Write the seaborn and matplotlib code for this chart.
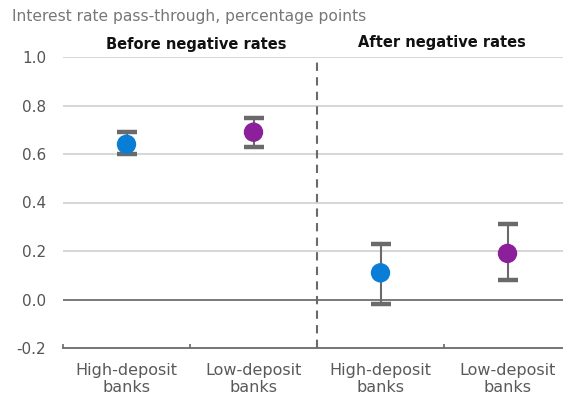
import matplotlib
matplotlib.use("Agg")
import matplotlib.pyplot as plt
import seaborn as sns
import pandas as pd
import numpy as np

# Pass-through estimates with confidence bounds
categories = ["High-deposit\nbanks", "Low-deposit\nbanks", "High-deposit\nbanks", "Low-deposit\nbanks"]
groups = ["High", "Low", "High", "Low"]
estimates = [0.64, 0.69, 0.11, 0.19]
lower = [0.60, 0.63, -0.02, 0.08]
upper = [0.69, 0.75, 0.23, 0.31]
periods = ["Before negative rates", "After negative rates"]
yticks = [-0.2, 0.0, 0.2, 0.4, 0.6, 0.8, 1.0]

sns.set_theme(style="white")
plt.rcParams["font.family"] = ["DejaVu Sans"]

df = pd.DataFrame({"pos": np.arange(len(categories)), "est": estimates,
                   "lo": lower, "hi": upper, "group": groups})

fig = plt.figure(figsize=(5.63, 3.98), dpi=100)
W, H = 563, 398
ax = fig.add_axes([63 / W, 1 - 348 / H, 508 / W, (348 - 57) / H])

# horizontal gridlines
for t in yticks[1:]:
    ax.axhline(t, color="#6e6e6e" if t == 0 else "#d6d6d6", lw=1.3 if t == 0 else 1.4, zorder=0)

# confidence intervals
ax.errorbar(df["pos"], df["est"],
            yerr=[df["est"] - df["lo"], df["hi"] - df["est"]],
            fmt="none", ecolor="#6a6a6a", elinewidth=1.5, capsize=7, capthick=3.2, zorder=2)

palette = {"High": "#0A7DD6", "Low": "#8C1F9A"}
sns.scatterplot(data=df, x="pos", y="est", hue="group", palette=palette, s=195,
                edgecolor="none", legend=False, ax=ax, zorder=3)

# separator between periods
ax.axvline(1.5, color="#6a6a6a", lw=1.5, ls=(0, (4, 3)), zorder=1)

ax.set_xlim(-0.5, 3.5)
ax.set_ylim(-0.2, 1.0)
ax.set_yticks(yticks)
ax.set_yticklabels([f"{t:.1f}" for t in yticks], color="#555555", fontsize=11)
ax.set_xticks(range(len(categories)))
ax.set_xticklabels(categories, color="#5a5a5a", fontsize=11.5, linespacing=1.15)
ax.set_xticks([-0.5, 0.5, 1.5, 2.5, 3.5], minor=True)
ax.tick_params(axis="x", which="major", length=0, pad=11)
ax.tick_params(axis="x", which="minor", length=3, width=1.2, color="#6a6a6a", direction="in", bottom=True)
ax.tick_params(axis="y", length=0, pad=12)
ax.set_xlabel("")
ax.set_ylabel("")

for s in ["top", "right", "left"]:
    ax.spines[s].set_visible(False)
ax.spines["bottom"].set_color("#6a6a6a")
ax.spines["bottom"].set_linewidth(1.3)

fig.text(12 / W, 1 - 17 / H, "Interest rate pass-through, percentage points",
         color="#777777", fontsize=11.2, va="center", ha="left")
fig.text(196 / W, 1 - 45 / H, periods[0], fontsize=10.5, fontweight="bold",
         color="#111111", ha="center", va="center")
fig.text(442 / W, 1 - 43 / H, periods[1], fontsize=10.5, fontweight="bold",
         color="#111111", ha="center", va="center")

fig.savefig("out.png", dpi=100)
